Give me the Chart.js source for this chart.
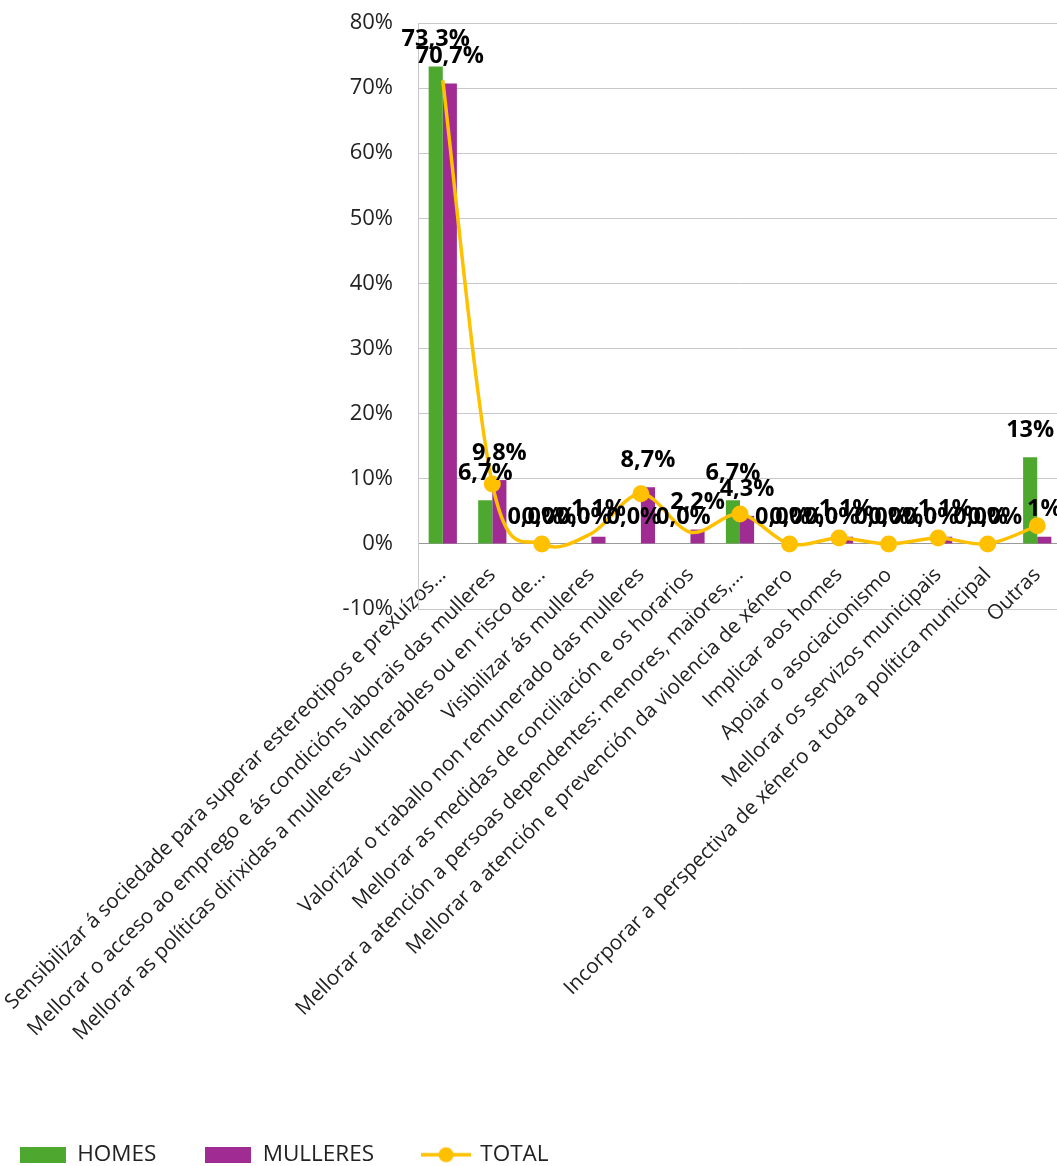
<!DOCTYPE html>
<html>
<head>
<meta charset="utf-8">
<script src="https://cdn.jsdelivr.net/npm/chart.js@4.4.1/dist/chart.umd.min.js"></script>
<style>
  html, body { margin: 0; padding: 0; background: #fff; overflow: hidden; }
  /* the plot runs a few pixels past the right edge, as in the original crop */
  #wrap { width: 1057px; height: 1166px; overflow: hidden; }
</style>
</head>
<body>
<div id="wrap"><canvas id="chart" width="1062" height="1166"></canvas></div>
<script>
// Categories (x axis)
const categories = [
  'Sensibilizar á sociedade para superar estereotipos e prexuízos...',
  'Mellorar o acceso ao emprego e ás condicións laborais das mulleres',
  'Mellorar as políticas dirixidas a mulleres vulnerables ou en risco de...',
  'Visibilizar ás mulleres',
  'Valorizar o traballo non remunerado das mulleres',
  'Mellorar as medidas de conciliación e os horarios',
  'Mellorar a atención a persoas dependentes: menores, maiores,...',
  'Mellorar a atención e prevención da violencia de xénero',
  'Implicar aos homes',
  'Apoiar o asociacionismo',
  'Mellorar os servizos municipais',
  'Incorporar a perspectiva de xénero a toda a política municipal',
  'Outras'
];

// Series values (%)
const homes    = [73.3, 6.7, 0, 0, 0, 0, 6.7, 0, 0, 0, 0, 0, 13.3];
const mulleres = [70.7, 9.8, 0, 1.1, 8.7, 2.2, 4.3, 0, 1.1, 0, 1.1, 0, 1.1];
const total    = [71.2, 9.2, 0, 1.6, 7.7, 1.8, 4.6, 0, 0.9, 0, 0.9, 0, 2.8];
// markers shown on the TOTAL line
const totalMarker = [false, true, true, false, true, false, true, true, true, true, true, true, true];

// y axis ticks
const yMin = -10, yMax = 80, yStep = 10;

const GREEN = '#4EA72E', PURPLE = '#A02B93', YELLOW = '#FFC000';
const FONT = '"Open Sans", sans-serif';
Chart.defaults.font.family = FONT;

function fmt(v, i) {
  // last category shows no decimals
  const d = i === categories.length - 1 ? 0 : 1;
  return v.toFixed(d).replace('.', ',') + '%';
}

// legend icons
function boxIcon(color) {
  const c = document.createElement('canvas');
  c.width = 46; c.height = 16;
  const g = c.getContext('2d');
  g.fillStyle = color;
  g.fillRect(0, 0, 46, 16);
  return c;
}
function lineIcon(color) {
  const c = document.createElement('canvas');
  c.width = 50; c.height = 18;
  const g = c.getContext('2d');
  g.strokeStyle = color; g.lineWidth = 3.5;
  g.beginPath(); g.moveTo(0, 9); g.lineTo(50, 9); g.stroke();
  g.fillStyle = color;
  g.beginPath(); g.arc(25, 9, 7.5, 0, Math.PI * 2); g.fill();
  return c;
}
const legendIcons = [boxIcon(GREEN), boxIcon(PURPLE), lineIcon(YELLOW)];

// bar value labels
const barLabels = {
  id: 'barLabels',
  afterDatasetsDraw(chart) {
    const ctx = chart.ctx;
    ctx.save();
    ctx.font = 'bold 23.5px ' + FONT;
    ctx.fillStyle = '#000';
    ctx.textAlign = 'center';
    ctx.textBaseline = 'middle';
    chart.data.datasets.forEach((ds, di) => {
      if (ds.type === 'line') return;
      chart.getDatasetMeta(di).data.forEach((bar, i) => {
        ctx.fillText(fmt(ds.data[i], i), bar.x, bar.y - 27);
      });
    });
    ctx.restore();
  }
};

// smoothing similar to the spreadsheet one (catmull-rom style)
const smoothLine = {
  id: 'smoothLine',
  beforeDatasetsDraw(chart) {
    chart.data.datasets.forEach((ds, di) => {
      if (ds.type !== 'line') return;
      const meta = chart.getDatasetMeta(di);
      const pts = meta.data;
      pts.forEach((p, i) => {
        const prev = pts[Math.max(i - 1, 0)];
        const next = pts[Math.min(i + 1, pts.length - 1)];
        const dx = (next.x - prev.x) / 6, dy = (next.y - prev.y) / 6;
        p.cp1x = p.x - dx; p.cp1y = p.y - dy;
        p.cp2x = p.x + dx; p.cp2y = p.y + dy;
      });
      meta.dataset._pointsUpdated = true;
    });
  }
};

new Chart(document.getElementById('chart'), {
  data: {
    labels: categories,
    datasets: [
      { type: 'bar', label: 'HOMES', data: homes, backgroundColor: GREEN, order: 1 },
      { type: 'bar', label: 'MULLERES', data: mulleres, backgroundColor: PURPLE, order: 1 },
      {
        type: 'line', label: 'TOTAL', data: total, order: 0,
        borderColor: YELLOW, backgroundColor: YELLOW, borderWidth: 3.5,
        tension: 0.4,
        pointRadius: totalMarker.map(m => m ? 8.5 : 0),
        pointBackgroundColor: YELLOW, pointBorderColor: YELLOW, pointBorderWidth: 0
      }
    ]
  },
  options: {
    responsive: false,
    animation: false,
    layout: { autoPadding: false, padding: { top: 23, left: -29, right: 0, bottom: -10 } },
    datasets: { bar: { categoryPercentage: 0.57, barPercentage: 1 } },
    scales: {
      x: {
        grid: { display: false, drawTicks: false },
        border: { display: true, color: '#c8c8c8' },
        ticks: {
          autoSkip: false, minRotation: 45, maxRotation: 45,
          padding: -46, color: '#222',
          font: { size: 20.6 }
        },
        afterFit(scale) {
          scale.height = 485.5;
          scale.paddingLeft = 0;
          scale.paddingRight = 0;
          // labels sit just under the 0% line, so do not clip them to the axis box
          scale._computeLabelArea = () => undefined;
        }
      },
      y: {
        min: yMin, max: yMax,
        grid: {
          drawTicks: false,
          color: ctx => ctx.tick && ctx.tick.value === 0 ? '#9a9a9a' : '#c8c8c8'
        },
        border: { display: true, color: '#c8c8c8' },
        ticks: {
          stepSize: yStep, padding: 25, color: '#222',
          font: { size: 22 },
          callback: v => v + '%'
        },
        afterFit(scale) {
          scale.width = 447;
          scale.paddingTop = 0;
          scale.paddingBottom = 0;
        }
      }
    },
    plugins: {
      tooltip: { enabled: false },
      legend: {
        position: 'bottom',
        align: 'start',
        labels: {
          usePointStyle: true,
          pointStyleWidth: 46,
          padding: 49,
          color: '#222',
          font: { size: 22.5 },
          sort: (a, b) => a.datasetIndex - b.datasetIndex,
          generateLabels(chart) {
            const items = Chart.defaults.plugins.legend.labels.generateLabels(chart);
            items.forEach(it => { it.pointStyle = legendIcons[it.datasetIndex]; });
            return items;
          }
        }
      }
    }
  },
  plugins: [smoothLine, barLabels]
});
</script>
</body>
</html>
